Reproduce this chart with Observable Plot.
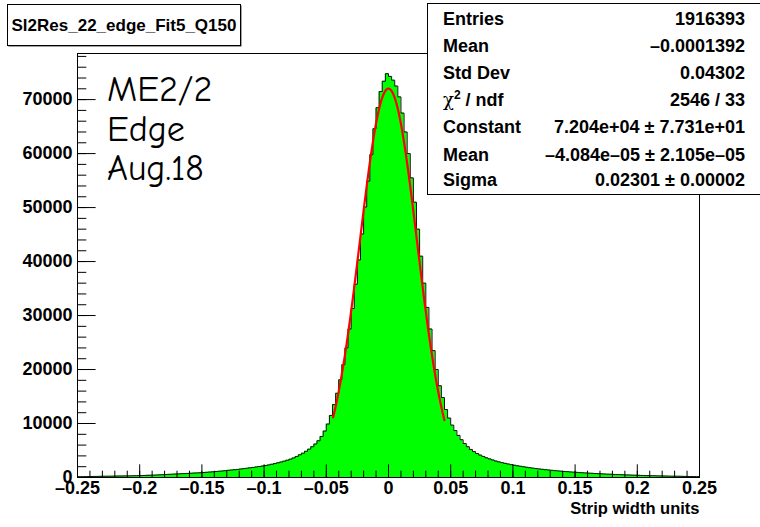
<!DOCTYPE html>
<html><head><meta charset="utf-8">
<script src="https://cdn.jsdelivr.net/npm/d3@7"></script>
<script src="https://cdn.jsdelivr.net/npm/@observablehq/plot@0.6"></script>
<style>
body{margin:0;background:#fff;}
#wrap{position:relative;width:760px;height:527px;overflow:hidden;background:#fff;}
#wrap svg{position:absolute;left:0;top:0;}
</style></head><body><div id="wrap"></div>
<script>
// ---- data ----
const histTitle = "Sl2Res_22_edge_Fit5_Q150";
const histRange = [-0.25, 0.25];
const counts = [
 150,160,170,180,190,200,205,210,220,230,
 240,250,260,270,280,290,300,315,330,345,
 360,380,400,420,440,460,490,520,550,580,
 610,640,670,700,730,760,790,820,850,880,
 920,960,1000,1050,1100,1150,1200,1260,1320,1380,
 1440,1500,1570,1640,1710,1790,1870,1950,2030,2120,
 2220,2330,2450,2580,2720,2870,3030,3200,3400,3620,
 3900,4200,4500,4850,5250,5700,6200,6800,7600,8600,
 9900,11500,13500,15600,18100,20900,24000,27500,31300,35800,
 40300,45100,50100,54900,59800,64600,68500,71500,73400,74800,
 74300,73600,72500,70500,67500,64000,60000,55500,51000,46000,
 41000,36000,31500,27500,23500,20000,17000,14800,12600,11000,
 9700,8700,7800,7000,6300,5700,5200,4800,4450,4150,
 3900,3650,3450,3250,3050,2900,2750,2620,2500,2380,
 2270,2170,2070,1980,1890,1810,1730,1650,1580,1510,
 1450,1390,1330,1270,1220,1170,1120,1080,1030,990,
 950,910,870,840,800,770,740,710,680,650,
 620,600,570,550,530,500,480,460,440,420,
 400,380,360,350,330,320,300,290,280,260,
 250,240,230,220,210,200,190,180,170,160
];
const fitConstant = 72040;
const fitMean = -4.084e-05;
const fitSigma = 0.02301;
const fitRange = [-0.0445, 0.045];
const xTickValues = [-0.25,-0.2,-0.15,-0.1,-0.05,0,0.05,0.1,0.15,0.2,0.25];
const xTickLabels = ["\u20130.25","\u20130.2","\u20130.15","\u20130.1","\u20130.05","0","0.05","0.1","0.15","0.2","0.25"];
const yTickValues = [0,10000,20000,30000,40000,50000,60000,70000];
const yTickLabels = ["0","10000","20000","30000","40000","50000","60000","70000"];
const xLabel = "Strip width units";
const statNames = ["Entries","Mean","Std Dev","CHI","Constant","Mean","Sigma"];
const statValues = ["1916393","\u20130.0001392","0.04302","2546 / 33",
  "7.204e+04 \u00b1 7.731e+01","\u20134.084e\u201305 \u00b1 2.105e\u201305","0.02301 \u00b1 0.00002"];
const noteLines = ["ME2/2","Edge","Aug.18"];

// ---- build ----
const W = 760, H = 527, mT = 53, mB = 50, mL = 77, mR = 61;
const fh = H - mT - mB, fw = W - mL - mR;
const bw = (histRange[1] - histRange[0]) / counts.length;
const steps = counts.map((c, i) => ({x: histRange[0] + i * bw, y: c}));
steps.push({x: histRange[1], y: counts[counts.length - 1]});
const fit = d3.range(241).map(i => {
  const x = fitRange[0] + (fitRange[1] - fitRange[0]) * i / 240;
  return {x, y: fitConstant * Math.exp(-0.5 * ((x - fitMean) / fitSigma) ** 2)};
});
const yMax = 1.05 * d3.max(counts);
const xMinor = d3.range(-25, 26).map(i => i / 100);
const yMinor = d3.range(0, yMax, 2000);
const font = "'Liberation Sans', Arial, Helvetica, sans-serif";

const plot = Plot.plot({
  width: W, height: H, marginTop: mT, marginBottom: mB, marginLeft: mL, marginRight: mR,
  x: {domain: histRange},
  y: {domain: [0, yMax]},
  style: {fontFamily: font, fontSize: "18px", fontWeight: "bold", color: "#000", background: "transparent"},
  marks: [
    Plot.areaY(steps, {x: "x", y: "y", curve: "step-after", fill: "#00ff00"}),
    Plot.lineY(steps, {x: "x", y: "y", curve: "step-after", stroke: "#111", strokeWidth: 1}),
    Plot.line(fit, {x: "x", y: "y", stroke: "#ff0000", strokeWidth: 2.2}),
    Plot.tickX(xMinor, {x: d => d, insetTop: fh - 6.3, stroke: "#000"}),
    Plot.tickX(xTickValues, {x: d => d, insetTop: fh - 12.7, stroke: "#000"}),
    Plot.tickY(yMinor, {y: d => d, insetRight: fw - 9.3, stroke: "#000"}),
    Plot.tickY(yTickValues, {y: d => d, insetRight: fw - 18.6, stroke: "#000"}),
    Plot.frame({stroke: "#000"}),
    Plot.axisX({ticks: xTickValues, tickSize: 0, tickPadding: 4, label: null,
      tickFormat: d => xTickLabels[xTickValues.indexOf(d)], fontWeight: "bold"}),
    Plot.axisY({ticks: yTickValues, tickSize: 0, tickPadding: 5, label: null,
      tickFormat: d => yTickLabels[yTickValues.indexOf(d)], fontWeight: "bold"}),
    Plot.text([xLabel], {text: d => d, frameAnchor: "bottom-right", dy: 36, textAnchor: "end",
      fontSize: 16.5, fontWeight: "bold"})
  ]
});
document.getElementById("wrap").appendChild(plot);

// ---- overlay: title box, stats box, annotation ----
const ov = d3.select("#wrap").append("svg").attr("width", W).attr("height", H)
  .style("pointer-events", "none");

// title box
ov.append("rect").attr("x", 8.5).attr("y", 5.5).attr("width", 233).attr("height", 41).attr("fill", "#444");
ov.append("rect").attr("x", 7.5).attr("y", 4.5).attr("width", 233).attr("height", 41)
  .attr("fill", "#fff").attr("stroke", "#000");
ov.append("text").attr("x", 124).attr("y", 30.7).attr("text-anchor", "middle")
  .attr("font-family", font).attr("font-weight", "bold").attr("font-size", 17).text(histTitle);

// stats box
ov.append("rect").attr("x", 427.5).attr("y", 3.5).attr("width", 340).attr("height", 191)
  .attr("fill", "#fff").attr("stroke", "#000");
const baselines = [25, 52.3, 79, 106, 133.3, 160.7, 186];
statNames.forEach((n, i) => {
  const t = ov.append("text").attr("x", 443).attr("y", baselines[i])
    .attr("font-family", font).attr("font-weight", "bold").attr("font-size", 18);
  if (n === "CHI") {
    t.append("tspan").attr("font-weight", "normal").attr("font-family", "'DejaVu Serif', serif").text("\u03c7");
    t.append("tspan").attr("font-size", 12).attr("dy", -7).text("2");
    t.append("tspan").attr("dy", 7).text(" / ndf");
  } else {
    t.text(n);
  }
  ov.append("text").attr("x", 745).attr("y", baselines[i]).attr("text-anchor", "end")
    .attr("font-family", font).attr("font-weight", "bold").attr("font-size", 18).text(statValues[i]);
});

// annotation
const noteBase = [101, 140.5, 180];
noteLines.forEach((s, i) => {
  ov.append("text").attr("x", 107).attr("y", noteBase[i])
    .attr("font-family", "'Comic Sans MS', 'Comic Neue', 'Noto Sans', sans-serif")
    .attr("font-size", 36).text(s);
});
</script>
</body></html>
